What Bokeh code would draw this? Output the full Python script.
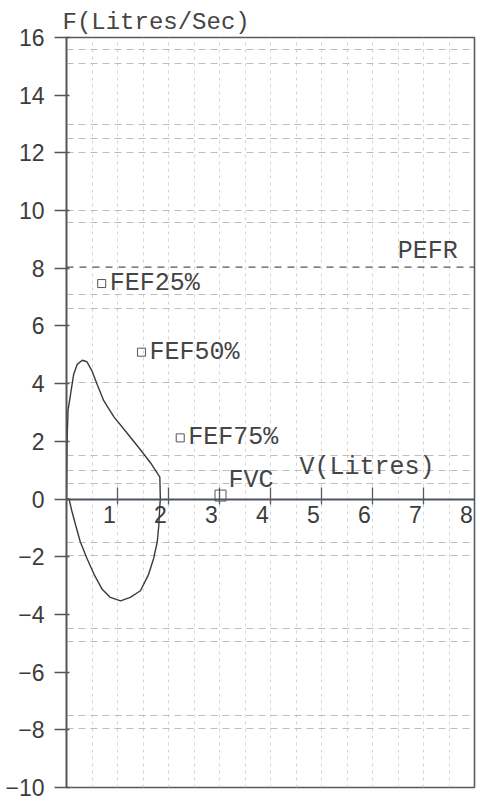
from bokeh.plotting import figure
from bokeh.models import Range1d, FixedTicker
from bokeh.embed import file_html
from bokeh.resources import INLINE
from bokeh.core.properties import value

# ---- data ----
# measured flow-volume loop (expiration then inspiration)
loop_volume = [0.00, 0.01, 0.03, 0.08, 0.14, 0.21, 0.31, 0.40, 0.50, 0.60, 0.73, 0.93,
               1.19, 1.45, 1.65, 1.83, 1.84, 1.83, 1.81, 1.78, 1.71, 1.61, 1.45, 1.25,
               1.06, 0.86, 0.70, 0.54, 0.40, 0.27, 0.18, 0.11, 0.05, 0.00]
loop_flow = [0.00, 1.93, 3.07, 3.64, 4.32, 4.67, 4.81, 4.76, 4.44, 3.98, 3.41, 2.85,
             2.28, 1.71, 1.25, 0.76, 0.00, -0.23, -0.91, -1.48, -2.05, -2.61, -3.18, -3.41,
             -3.53, -3.41, -3.13, -2.61, -2.05, -1.48, -0.91, -0.45, 0.00, 0.00]

# predicted points
pred_labels = ["FEF25%", "FEF50%", "FEF75%"]
pred_volume = [0.69, 1.47, 2.23]
pred_flow = [7.47, 5.09, 2.12]
fvc_label = ["FVC"]
fvc_volume = [3.02]
fvc_flow = [0.12]
pefr_label = ["PEFR"]
pefr_flow = 8.04

# axes
x_ticks = [1, 2, 3, 4, 5, 6, 7]
x_tick_labels = ["1", "2", "3", "4", "5", "6", "7", "8"]
x_label_pos = [1, 2, 3, 4, 5, 6, 7, 8]
y_ticks = [-10, -8, -6, -4, -2, 0, 2, 4, 6, 8, 10, 12, 14, 16]
x_title = ["V(Litres)"]
y_title = "F(Litres/Sec)"

# printed paper grid
h_grid = [15.6, 15.1, 13.0, 12.5, 12.0, 10.0, 9.6, 7.1, 6.6, 4.05, 1.5, 1.0, 0.55,
          -1.5, -1.95, -4.5, -4.95, -7.5, -7.95]
v_grid = [0.5, 1.0, 1.5, 2.0, 2.5, 3.0, 3.5, 4.0, 4.5, 5.0, 5.5, 6.0, 6.5, 7.0, 7.5]

MONO = "Liberation Mono"
SANS = "Liberation Sans"
TXT = "#454545"
TICKTXT = "#3c3c3c"

p = figure(width=481, height=801, x_range=Range1d(0, 8), y_range=Range1d(-10, 16),
           output_backend="svg", toolbar_location=None,
           min_border_left=66, min_border_right=7, min_border_top=37, min_border_bottom=14)
p.background_fill_color = "white"
p.border_fill_color = "white"
p.outline_line_color = "#5a5a5a"
p.outline_line_width = 1.6

# title = flow axis name
p.title.text = y_title
p.title.align = "left"
p.title.offset = -4
p.title.standoff = 3
p.title.text_font = MONO
p.title.text_font_style = "normal"
p.title.text_font_size = "24px"
p.title.text_color = TXT

# grid
p.ygrid.ticker = FixedTicker(ticks=h_grid)
p.ygrid.grid_line_color = "#bcbcbc"
p.ygrid.grid_line_dash = "7 5"
p.ygrid.grid_line_width = 1
p.xgrid.ticker = FixedTicker(ticks=v_grid)
p.xgrid.grid_line_color = "#d4d4d4"
p.xgrid.grid_line_dash = "3 4"
p.xgrid.grid_line_width = 1

# y axis (left frame edge)
ya = p.yaxis[0]
ya.ticker = FixedTicker(ticks=y_ticks)
ya.major_label_overrides = {t: (("\u2212" + str(-t)) if t < 0 else str(t)) for t in y_ticks}
ya.axis_line_color = "#555555"
ya.axis_line_width = 1.6
ya.major_tick_out = 12
ya.major_tick_in = 3
ya.major_tick_line_color = "#555555"
ya.major_tick_line_width = 1.3
ya.minor_tick_line_color = None
ya.major_label_standoff = 10
ya.major_label_text_font = SANS
ya.major_label_text_font_size = "23px"
ya.major_label_text_color = TICKTXT

# x axis drawn at F = 0
xa = p.xaxis[0]
xa.fixed_location = 0
xa.ticker = FixedTicker(ticks=x_ticks)
xa.axis_line_color = "#4a5462"
xa.axis_line_width = 2
xa.major_tick_in = 12
xa.major_tick_out = 5
xa.major_tick_line_color = "#5a5a5a"
xa.major_tick_line_width = 1.3
xa.minor_tick_line_color = None
xa.major_label_text_color = None

# x tick labels (printed left of the ticks)
p.text(x=x_label_pos, y=[0] * len(x_label_pos), text=x_tick_labels,
       text_font=value(SANS), text_font_size="23px", text_color=TICKTXT,
       text_align="center", text_baseline="top", x_offset=-8, y_offset=7)

# PEFR line
p.line(x=[0, 8], y=[pefr_flow, pefr_flow], line_color="#555555", line_width=1.1,
       line_dash="7 6")
p.text(x=[7.67], y=[pefr_flow], text=pefr_label, text_font=value(MONO), text_font_size="25px",
       text_color=TXT, text_align="right", text_baseline="alphabetic", y_offset=-16)

# loop
p.line(x=loop_volume, y=loop_flow, line_color="#3a3a3a", line_width=1.4)

# predicted markers
p.scatter(x=pred_volume, y=pred_flow, marker="square", size=8, fill_color=None,
          line_color="#555555", line_width=1)
p.text(x=pred_volume, y=pred_flow, text=pred_labels, text_font=value(MONO), text_font_size="25px",
       text_color=TXT, text_align="left", text_baseline="middle", x_offset=8)
p.scatter(x=fvc_volume, y=fvc_flow, marker="square", size=11, fill_color=None,
          line_color="#555555", line_width=1)
p.text(x=fvc_volume, y=fvc_flow, text=fvc_label, text_font=value(MONO), text_font_size="25px",
       text_color=TXT, text_align="left", text_baseline="middle", x_offset=8, y_offset=-15)

# volume axis name
p.text(x=[4.57], y=[1.09], text=x_title, text_font=value(MONO), text_font_size="25px",
       text_color=TXT, text_align="left", text_baseline="middle")

open("out.html", "w").write(file_html(p, INLINE))
